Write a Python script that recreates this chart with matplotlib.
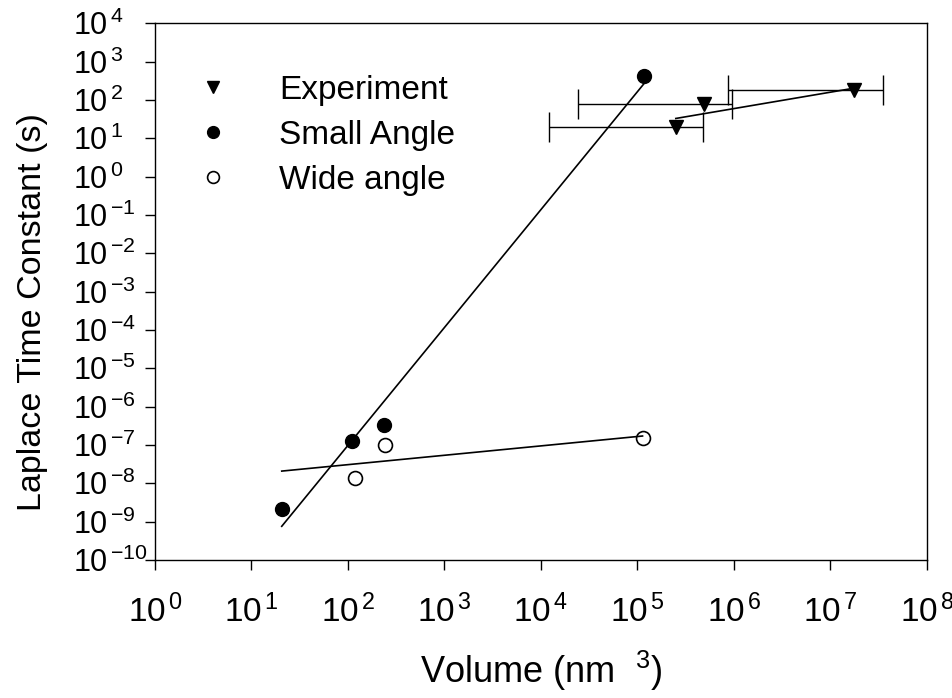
import numpy as np
import matplotlib
matplotlib.use("Agg")
import matplotlib.pyplot as plt
from matplotlib.ticker import FixedFormatter

plt.rcParams['font.family'] = ['Liberation Sans', 'DejaVu Sans']
plt.rcParams['mathtext.fontset'] = 'custom'
plt.rcParams['mathtext.rm'] = 'Liberation Sans'
plt.rcParams['mathtext.it'] = 'Liberation Sans'
plt.rcParams['axes.unicode_minus'] = False

# experiment (triangles) with horizontal error bars
exp_x = [2.5e5, 4.9e5, 1.75e7]
exp_y = [20, 79, 184]
exp_xlo = [1.2e4, 2.4e4, 8.7e5]
exp_xhi = [4.8e5, 9.5e5, 3.5e7]

# small angle (filled circles)
small_x = [20.6, 110, 238, 1.18e5]
small_y = [2.2e-9, 1.26e-7, 3.3e-7, 413]

# wide angle (open circles)
wide_x = [119, 243, 1.13e5]
wide_y = [1.35e-8, 1.0e-7, 1.55e-7]

x_exps = list(range(0, 9))
y_exps = list(range(-10, 5))


def loglog_fit(x, y, xmin, xmax):
    p = np.polyfit(np.log10(x), np.log10(y), 1)
    xs = np.array([xmin, xmax])
    return xs, 10 ** np.polyval(p, np.log10(xs))


def pow_label(k):
    return r'$\mathregular{10^{\,{%d}}}$' % k


fig = plt.figure(figsize=(9.53, 6.98), dpi=100)
ax = fig.add_axes([0.1626, 0.1977, 0.81, 0.769])

ax.errorbar(exp_x, exp_y,
            xerr=[np.array(exp_x) - np.array(exp_xlo), np.array(exp_xhi) - np.array(exp_x)],
            fmt='none', ecolor='black', elinewidth=1, capsize=11, capthick=1)
ax.plot(exp_x, exp_y, 'v', color='black', ms=10, label='Experiment')
ax.plot(small_x, small_y, 'o', color='black', ms=10, label='Small Angle')
ax.plot(wide_x, wide_y, 'o', mfc='white', mec='black', mew=1.2, ms=10, label='Wide angle')

# regression lines
xs, ys = loglog_fit(exp_x, exp_y, min(exp_x), max(exp_x))
ax.plot(xs, ys, color='black', lw=1.2)
xs, ys = loglog_fit(small_x, small_y, min(small_x), max(small_x))
ax.plot(xs, ys, color='black', lw=1.2)
xs, ys = loglog_fit(wide_x, wide_y, min(small_x), max(wide_x))
ax.plot(xs, ys, color='black', lw=1.2)

ax.set_xscale('log')
ax.set_yscale('log')
ax.set_xlim(1, 1e8)
ax.set_ylim(1e-10, 1e4)
ax.set_xticks([10.0 ** k for k in x_exps])
ax.set_yticks([10.0 ** k for k in y_exps])
ax.xaxis.set_major_formatter(FixedFormatter([pow_label(k) for k in x_exps]))
ax.yaxis.set_major_formatter(FixedFormatter([pow_label(k) for k in y_exps]))
ax.minorticks_off()

ax.tick_params(axis='both', which='major', direction='out', length=7, width=1,
               top=False, right=False)
ax.tick_params(axis='x', labelsize=24, pad=18)
ax.tick_params(axis='y', labelsize=22, pad=52)
for lab in ax.get_yticklabels():
    lab.set_horizontalalignment('left')

for s in ax.spines.values():
    s.set_linewidth(1)

ax.set_xlabel('Volume (nm  $^{3}$)', fontsize=26)
ax.xaxis.set_label_coords(0.5, -0.166)
ax.set_ylabel('Laplace Time Constant (s)', fontsize=24.5)
ax.yaxis.set_label_coords(-0.139, 0.462)

ax.legend(loc='upper left', bbox_to_anchor=(0.053, 0.904), frameon=False,
          fontsize=24, handlelength=1.0, handletextpad=1.5, labelspacing=0.42,
          borderpad=0, borderaxespad=0, markerscale=0.85, numpoints=1)

fig.savefig('out.png', dpi=100)
